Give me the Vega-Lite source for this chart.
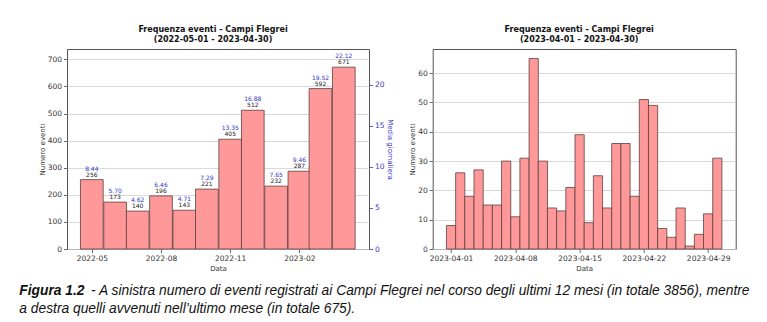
{
  "$schema": "https://vega.github.io/schema/vega-lite/v6.json",
  "background": "white",
  "padding": {"left": 19, "top": 25, "right": 5, "bottom": 0},
  "config": {
    "font": "DejaVu Sans",
    "view": {"stroke": "#555555", "strokeWidth": 1},
    "axis": {
      "labelFont": "DejaVu Sans",
      "labelFontSize": 7.5,
      "labelColor": "#333333",
      "titleFont": "DejaVu Sans",
      "titleFontSize": 7,
      "titleFontWeight": "normal",
      "titleColor": "#333333",
      "tickColor": "#444444",
      "tickSize": 3.5,
      "tickWidth": 0.8,
      "domain": false,
      "gridColor": "#cfcfcf",
      "gridWidth": 0.8,
      "labelPadding": 2,
      "titlePadding": 2
    },
    "title": {
      "font": "DejaVu Sans",
      "fontSize": 8,
      "fontWeight": "bold",
      "color": "#111111",
      "anchor": "middle",
      "lineHeight": 10,
      "offset": 5
    }
  },
  "spacing": 269,
  "bounds": "flush",
  "vconcat": [
    {
      "spacing": 63.7,
      "bounds": "flush",
      "hconcat": [
        {
          "width": 302,
          "height": 200,
          "title": {"text": ["Frequenza eventi - Campi Flegrei", "(2022-05-01 - 2023-04-30)"], "dx": -5},
          "data": {
            "values": [
              {"mese": "2022-05-01", "eventi": 256, "media": 8.44},
              {"mese": "2022-06-01", "eventi": 173, "media": 5.70},
              {"mese": "2022-07-01", "eventi": 140, "media": 4.62},
              {"mese": "2022-08-01", "eventi": 196, "media": 6.46},
              {"mese": "2022-09-01", "eventi": 143, "media": 4.71},
              {"mese": "2022-10-01", "eventi": 221, "media": 7.29},
              {"mese": "2022-11-01", "eventi": 405, "media": 13.35},
              {"mese": "2022-12-01", "eventi": 512, "media": 16.88},
              {"mese": "2023-01-01", "eventi": 232, "media": 7.65},
              {"mese": "2023-02-01", "eventi": 287, "media": 9.46},
              {"mese": "2023-03-01", "eventi": 592, "media": 19.52},
              {"mese": "2023-04-01", "eventi": 671, "media": 22.12}
            ]
          },
          "layer": [
            {
              "encoding": {
                "x": {
                  "field": "mese",
                  "type": "temporal",
                  "title": "Data",
                  "scale": {
                    "type": "utc",
                    "nice": false,
                    "padding": 0,
                    "domain": [
                      {"year": 2022, "month": 3, "date": 29, "utc": true},
                      {"year": 2023, "month": 5, "date": 4, "hours": 12, "utc": true}
                    ]
                  },
                  "axis": {
                    "grid": false,
                    "format": "%Y-%m",
                    "values": [
                      {"year": 2022, "month": 5, "date": 1, "utc": true},
                      {"year": 2022, "month": 8, "date": 1, "utc": true},
                      {"year": 2022, "month": 11, "date": 1, "utc": true},
                      {"year": 2023, "month": 2, "date": 1, "utc": true}
                    ]
                  }
                },
                "y": {
                  "field": "eventi",
                  "type": "quantitative",
                  "title": "Numero eventi",
                  "scale": {"domain": [0, 738.1], "nice": false},
                  "axis": {"grid": true, "values": [0, 100, 200, 300, 400, 500, 600, 700]}
                }
              },
              "layer": [
                {"mark": {"type": "bar", "width": 22.7, "fill": "#ff9999", "stroke": "#5e3d3d", "strokeWidth": 0.8}},
                {
                  "mark": {"type": "text", "dy": -5, "fontSize": 6, "color": "#222222"},
                  "encoding": {"text": {"field": "eventi", "type": "quantitative"}}
                },
                {
                  "mark": {"type": "text", "dy": -11, "fontSize": 6, "color": "#3333cc"},
                  "encoding": {"text": {"field": "media", "type": "quantitative", "format": ".2f"}}
                }
              ]
            },
            {
              "mark": {"type": "point", "opacity": 0},
              "encoding": {
                "x": {"field": "mese", "type": "temporal"},
                "y": {
                  "field": "media",
                  "type": "quantitative",
                  "title": "Media giornaliera",
                  "scale": {"domain": [0, 24.33], "nice": false},
                  "axis": {
                    "orient": "right",
                    "grid": false,
                    "values": [0, 5, 10, 15, 20],
                    "labelColor": "#3333cc",
                    "tickColor": "#3333cc",
                    "titleColor": "#3333cc"
                  }
                }
              }
            }
          ],
          "resolve": {"scale": {"y": "independent"}}
        },
        {
          "width": 303,
          "height": 200,
          "title": {"text": ["Frequenza eventi - Campi Flegrei", "(2023-04-01 - 2023-04-30)"], "dx": -5},
          "data": {
            "values": [
              {"giorno": "2023-04-01", "eventi": 8},
              {"giorno": "2023-04-02", "eventi": 26},
              {"giorno": "2023-04-03", "eventi": 18},
              {"giorno": "2023-04-04", "eventi": 27},
              {"giorno": "2023-04-05", "eventi": 15},
              {"giorno": "2023-04-06", "eventi": 15},
              {"giorno": "2023-04-07", "eventi": 30},
              {"giorno": "2023-04-08", "eventi": 11},
              {"giorno": "2023-04-09", "eventi": 31},
              {"giorno": "2023-04-10", "eventi": 65},
              {"giorno": "2023-04-11", "eventi": 30},
              {"giorno": "2023-04-12", "eventi": 14},
              {"giorno": "2023-04-13", "eventi": 13},
              {"giorno": "2023-04-14", "eventi": 21},
              {"giorno": "2023-04-15", "eventi": 39},
              {"giorno": "2023-04-16", "eventi": 9},
              {"giorno": "2023-04-17", "eventi": 25},
              {"giorno": "2023-04-18", "eventi": 14},
              {"giorno": "2023-04-19", "eventi": 36},
              {"giorno": "2023-04-20", "eventi": 36},
              {"giorno": "2023-04-21", "eventi": 18},
              {"giorno": "2023-04-22", "eventi": 51},
              {"giorno": "2023-04-23", "eventi": 49},
              {"giorno": "2023-04-24", "eventi": 7},
              {"giorno": "2023-04-25", "eventi": 4},
              {"giorno": "2023-04-26", "eventi": 14},
              {"giorno": "2023-04-27", "eventi": 1},
              {"giorno": "2023-04-28", "eventi": 5},
              {"giorno": "2023-04-29", "eventi": 12},
              {"giorno": "2023-04-30", "eventi": 31}
            ]
          },
          "mark": {"type": "bar", "width": 9.2, "fill": "#ff9999", "stroke": "#5e3d3d", "strokeWidth": 0.8},
          "encoding": {
            "x": {
              "field": "giorno",
              "type": "temporal",
              "title": "Data",
              "scale": {
                "type": "utc",
                "nice": false,
                "padding": 0,
                "domain": [
                  {"year": 2023, "month": 3, "date": 30, "utc": true},
                  {"year": 2023, "month": 5, "date": 2, "utc": true}
                ]
              },
              "axis": {
                "grid": false,
                "format": "%Y-%m-%d",
                "values": [
                  {"year": 2023, "month": 4, "date": 1, "utc": true},
                  {"year": 2023, "month": 4, "date": 8, "utc": true},
                  {"year": 2023, "month": 4, "date": 15, "utc": true},
                  {"year": 2023, "month": 4, "date": 22, "utc": true},
                  {"year": 2023, "month": 4, "date": 29, "utc": true}
                ]
              }
            },
            "y": {
              "field": "eventi",
              "type": "quantitative",
              "title": "Numero eventi",
              "scale": {"domain": [0, 68.25], "nice": false},
              "axis": {"grid": true, "values": [0, 10, 20, 30, 40, 50, 60]}
            }
          }
        }
      ]
    },
    {
      "spacing": 4,
      "bounds": "flush",
      "hconcat": [
        {
          "width": 70,
          "height": 1,
          "view": {"stroke": null},
          "data": {"values": [{}]},
          "mark": {"type": "point", "opacity": 0},
          "encoding": {},
          "title": {
            "text": "Figura 1.2",
            "subtitle": "a destra quelli avvenuti nell’ultimo mese (in totale 675).",
            "anchor": "start",
            "dx": -47.7,
            "offset": 0,
            "font": "Liberation Sans",
            "fontSize": 13.8,
            "fontStyle": "italic",
            "fontWeight": "bold",
            "color": "#111111",
            "subtitleFont": "Liberation Sans",
            "subtitleFontSize": 13.8,
            "subtitleFontStyle": "italic",
            "subtitleFontWeight": "normal",
            "subtitleColor": "#111111",
            "subtitlePadding": 4.5
          }
        },
        {
          "width": 1,
          "height": 1,
          "view": {"stroke": null},
          "data": {"values": [{}]},
          "mark": {"type": "point", "opacity": 0},
          "encoding": {},
          "title": {
            "text": "- A sinistra numero di eventi registrati ai Campi Flegrei nel corso degli ultimi 12 mesi (in totale 3856), mentre",
            "subtitle": "\u00a0",
            "anchor": "start",
            "dx": -47.7,
            "offset": 0,
            "font": "Liberation Sans",
            "fontSize": 13.8,
            "fontStyle": "italic",
            "fontWeight": "normal",
            "color": "#111111",
            "subtitleFont": "Liberation Sans",
            "subtitleFontSize": 13.8,
            "subtitleFontStyle": "italic",
            "subtitleFontWeight": "normal",
            "subtitleColor": "#111111",
            "subtitlePadding": 4.5
          }
        }
      ]
    }
  ]
}
